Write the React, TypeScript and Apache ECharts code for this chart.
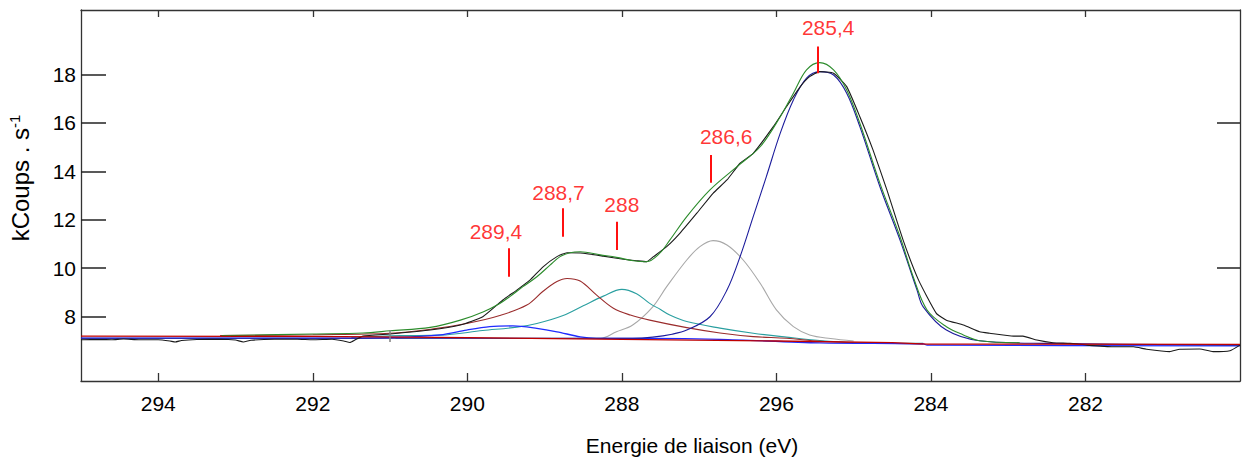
import React, { useEffect, useRef } from 'react';
import * as echarts from 'echarts';

const FONT = "'Liberation Sans', Arial, Helvetica, sans-serif";

// Axis ticks / labels (the reference prints "296" at the 286 tick)
const xTicks = [294, 292, 290, 288, 286, 284, 282];
const xTickLabels: Record<number, string> = {
  294: '294', 292: '292', 290: '290', 288: '288', 286: '296', 284: '284', 282: '282',
};
const yTicks = [8, 10, 12, 14, 16, 18];
const yRightTicks = [10, 16];

// Measured spectrum (black)
const measured: [number, number][] = [
  [295.0, 7.05], [294.75, 7.06], [294.6, 7.05], [294.45, 7.08], [294.25, 7.05], [294.0, 7.05],
  [293.85, 7.0], [293.78, 6.96], [293.7, 7.02], [293.5, 7.06], [293.2, 7.07], [293.0, 7.04],
  [292.9, 6.96], [292.8, 7.03], [292.5, 7.07], [292.2, 7.07], [292.0, 7.05], [291.75, 7.07],
  [291.6, 7.0], [291.52, 6.94], [291.45, 7.05], [291.35, 7.2], [291.0, 7.29], [290.48, 7.45],
  [290.09, 7.66], [289.8, 8.0], [289.54, 8.69], [289.36, 9.1], [289.19, 9.51], [289.02, 10.06],
  [288.84, 10.48], [288.71, 10.64], [288.5, 10.62], [288.24, 10.5], [287.98, 10.37], [287.81, 10.31],
  [287.68, 10.27], [287.59, 10.48], [287.42, 10.89], [287.25, 11.44], [287.03, 12.27], [286.82, 13.09],
  [286.64, 13.64], [286.47, 14.33], [286.3, 14.74], [286.04, 15.84], [285.87, 16.66], [285.69, 17.49],
  [285.57, 17.9], [285.44, 18.11], [285.26, 18.04], [285.09, 17.49], [284.92, 16.25], [284.75, 14.88],
  [284.57, 13.23], [284.36, 11.16], [284.16, 9.51], [283.93, 8.14], [283.8, 7.86], [283.58, 7.66],
  [283.37, 7.38], [283.24, 7.32], [282.93, 7.2], [282.81, 7.2], [282.63, 7.04], [282.42, 6.93],
  [282.2, 6.9], [281.98, 6.83], [281.64, 6.76], [281.38, 6.76], [281.21, 6.66], [280.91, 6.56],
  [280.78, 6.66], [280.52, 6.67], [280.35, 6.56], [280.13, 6.6], [280.0, 6.83],
];

// Fit envelope (green)
const envelope: [number, number][] = [
  [293.18, 7.22], [292.0, 7.29], [291.35, 7.33], [291.0, 7.42], [290.48, 7.56], [290.09, 7.86],
  [289.79, 8.21], [289.58, 8.55], [289.45, 8.83], [289.28, 9.24], [289.1, 9.65], [288.93, 10.13],
  [288.8, 10.48], [288.67, 10.64], [288.54, 10.68], [288.28, 10.55], [288.07, 10.45], [287.85, 10.31],
  [287.68, 10.27], [287.51, 10.62], [287.38, 11.16], [287.16, 12.13], [286.86, 13.23], [286.51, 14.19],
  [286.21, 15.01], [285.95, 16.25], [285.78, 17.22], [285.61, 18.18], [285.44, 18.48], [285.26, 18.18],
  [285.09, 17.35], [284.92, 15.98], [284.66, 13.5], [284.4, 11.3], [284.23, 9.65], [284.05, 8.28],
  [283.8, 7.59], [283.58, 7.25], [283.37, 7.01], [282.85, 6.93],
];

// Component 285,4 (navy)
const peak2854: [number, number][] = [
  [295.0, 7.11], [290.0, 7.11], [287.86, 7.11], [287.6, 7.16], [287.35, 7.28], [287.16, 7.45],
  [286.86, 8.0], [286.64, 9.1], [286.47, 10.48], [286.3, 12.13],
  [286.13, 13.78], [285.95, 15.57], [285.78, 16.94], [285.61, 17.84], [285.44, 18.11], [285.26, 17.97],
  [285.09, 17.22], [284.92, 15.84], [284.66, 13.36], [284.4, 11.16], [284.18, 9.1], [284.1, 8.41],
  [283.8, 7.45], [283.37, 7.01], [282.5, 6.9], [280.0, 6.83],
];

// Component 286,6 (gray)
const peak2866: [number, number][] = [
  [290.93, 7.11], [288.28, 7.11], [288.07, 7.38], [287.86, 7.66], [287.6, 8.41], [287.42, 9.24],
  [287.16, 10.34], [286.99, 10.89], [286.82, 11.14], [286.64, 10.96], [286.43, 10.34], [286.21, 9.38],
  [286.0, 8.28], [285.78, 7.59], [285.57, 7.25], [285.3, 7.1], [285.0, 7.0],
];

// Component 288 (teal)
const peak2880: [number, number][] = [
  [291.5, 7.15], [290.87, 7.22], [290.35, 7.24], [289.8, 7.43], [289.36, 7.57], [289.1, 7.72],
  [288.76, 8.05], [288.5, 8.45], [288.24, 8.85], [288.0, 9.13], [287.81, 8.95], [287.64, 8.55],
  [287.5, 8.3], [287.38, 8.07], [287.16, 7.8], [286.73, 7.53], [286.3, 7.32], [285.87, 7.16],
  [285.44, 7.02], [285.01, 6.94], [284.1, 6.9],
];

// Component 288,7 (brown)
const peak2887: [number, number][] = [
  [293.2, 7.22], [292.0, 7.26], [291.0, 7.32], [290.44, 7.5], [290.01, 7.72], [289.58, 8.05],
  [289.23, 8.48], [289.02, 9.05], [288.84, 9.45], [288.71, 9.58], [288.54, 9.47], [288.33, 8.9],
  [288.11, 8.35], [287.89, 8.07], [287.64, 7.86], [287.16, 7.55], [286.73, 7.33], [286.3, 7.18],
  [285.87, 7.11], [285.44, 6.99], [285.01, 6.93], [284.1, 6.88],
];

// Component 289,4 (blue)
const peak2894: [number, number][] = [
  [295.0, 7.12], [291.5, 7.12], [290.74, 7.17], [290.35, 7.25], [290.01, 7.45], [289.71, 7.59],
  [289.41, 7.62], [289.1, 7.52], [288.84, 7.38], [288.54, 7.17], [288.33, 7.11], [287.64, 7.11],
  [286.73, 7.07], [285.44, 6.92], [284.1, 6.88], [284.05, 6.83], [280.0, 6.8],
];

// Background (red)
const background: [number, number][] = [
  [295.0, 7.2], [292.0, 7.19], [290.0, 7.14], [288.0, 7.07], [286.0, 7.0], [284.5, 6.93],
  [284.05, 6.87], [280.0, 6.86],
];

// Peak annotations: label, tick x, tick y from/to, label position
const annLabels = ['285,4', '286,6', '288,7', '288', '289,4'];
const annX = [285.46, 286.85, 288.76, 288.06, 289.46];
const annY1 = [18.04, 13.53, 11.3, 10.75, 9.65];
const annY2 = [19.14, 14.67, 12.47, 11.92, 10.82];
const annTextX = [285.33, 286.65, 288.82, 288.0, 289.63];
const annTextY = [19.91, 15.43, 13.14, 12.63, 11.51];

// Region marker (gray tick)
const markerX = 291.0;
const markerY = [6.96, 7.45];

const lineSeries = (name: string, data: [number, number][], color: string, width = 1.1, smooth = 0.35) => ({
  type: 'line',
  name,
  data,
  symbol: 'none',
  showSymbol: false,
  silent: true,
  smooth,
  lineStyle: { color, width },
  z: 2,
});

export default function App() {
  const ref = useRef<HTMLDivElement>(null);

  useEffect(() => {
    if (!ref.current) return;
    const chart = echarts.init(ref.current, null, { renderer: 'svg' });

    const axisCommon = {
      type: 'value' as const,
      min: 280,
      max: 295,
      inverse: true,
      splitLine: { show: false },
      axisLine: { show: true, onZero: false, lineStyle: { color: '#333', width: 1.3 } },
    };

    const option: any = {
      animation: false,
      backgroundColor: '#ffffff',
      grid: { left: 81, right: 2, top: 10, bottom: 80, containLabel: false },
      xAxis: [
        {
          ...axisCommon,
          position: 'bottom',
          axisTick: { show: true, inside: true, length: 8, customValues: xTicks, lineStyle: { color: '#333', width: 1.3 } },
          axisLabel: {
            show: true,
            customValues: xTicks,
            formatter: (v: number) => xTickLabels[Math.round(v)] ?? '',
            fontSize: 21,
            fontFamily: FONT,
            color: '#000',
            margin: 12,
          },
        },
        {
          ...axisCommon,
          position: 'top',
          axisTick: { show: true, inside: true, length: 7, customValues: xTicks, lineStyle: { color: '#333', width: 1.3 } },
          axisLabel: { show: false },
        },
      ],
      yAxis: [
        {
          type: 'value',
          min: 5.35,
          max: 20.65,
          position: 'left',
          splitLine: { show: false },
          axisLine: { show: true, onZero: false, lineStyle: { color: '#333', width: 1.3 } },
          axisTick: { show: true, inside: true, length: 25, customValues: yTicks, lineStyle: { color: '#222', width: 1.5 } },
          axisLabel: {
            show: true,
            customValues: yTicks,
            fontSize: 21,
            fontFamily: FONT,
            color: '#000',
            margin: 5,
          },
        },
        {
          type: 'value',
          min: 5.35,
          max: 20.65,
          position: 'right',
          splitLine: { show: false },
          axisLine: { show: true, onZero: false, lineStyle: { color: '#333', width: 1.3 } },
          axisTick: { show: true, inside: true, length: 23, customValues: yRightTicks, lineStyle: { color: '#222', width: 1.5 } },
          axisLabel: { show: false },
        },
      ],
      series: [
        lineSeries('286,6', peak2866, '#a8a8a8'),
        lineSeries('288', peak2880, '#2a9fa0'),
        lineSeries('288,7', peak2887, '#9a2c2c'),
        lineSeries('289,4', peak2894, '#1f2bff', 1.3, 0.3),
        lineSeries('285,4', peak2854, '#1c1c9c'),
        lineSeries('mesure', measured, '#1a1a1a', 1.1, 0.15),
        lineSeries('enveloppe', envelope, '#2c8c2c'),
        lineSeries('fond', background, '#c00000', 1.3, 0),
        {
          type: 'scatter',
          name: 'annotations',
          silent: true,
          symbolSize: 1,
          itemStyle: { color: 'rgba(0,0,0,0)' },
          data: annLabels.map((l, i) => ({ name: l, value: [annTextX[i], annTextY[i]] })),
          label: {
            show: true,
            position: 'inside',
            formatter: '{b}',
            color: '#ff0000',
            fontSize: 21,
            fontFamily: FONT,
          },
          markLine: {
            silent: true,
            symbol: 'none',
            label: { show: false },
            lineStyle: { color: '#ff1010', width: 2, type: 'solid' },
            data: annLabels.map((_, i) => [
              { coord: [annX[i], annY1[i]] },
              { coord: [annX[i], annY2[i]] },
            ]),
          },
          z: 5,
        },
        {
          type: 'line',
          name: 'marker',
          data: [],
          silent: true,
          markLine: {
            silent: true,
            symbol: 'none',
            label: { show: false },
            lineStyle: { color: '#808080', width: 1.5, type: 'solid' },
            data: [[{ coord: [markerX, markerY[0]] }, { coord: [markerX, markerY[1]] }]],
          },
        },
      ],
      graphic: [
        {
          type: 'text',
          x: 692,
          y: 445,
          style: {
            text: 'Energie de liaison (eV)',
            fontSize: 21,
            fontFamily: FONT,
            fill: '#000',
            align: 'center',
            verticalAlign: 'middle',
          },
        },
        {
          type: 'text',
          x: 20,
          y: 178,
          rotation: Math.PI / 2,
          style: {
            text: '{a|kCoups . s}{b|-1}',
            align: 'center',
            verticalAlign: 'middle',
            rich: {
              a: { fontSize: 24, fontFamily: FONT, fill: '#000', lineHeight: 27 },
              b: { fontSize: 15, fontFamily: FONT, fill: '#000', verticalAlign: 'top', lineHeight: 27 },
            },
          },
        },
      ],
    };

    chart.setOption(option);
    return () => chart.dispose();
  }, []);

  return (
    <div
      ref={ref}
      style={{ position: 'absolute', left: 0, top: 0, width: 1242, height: 461, background: '#fff' }}
    />
  );
}
